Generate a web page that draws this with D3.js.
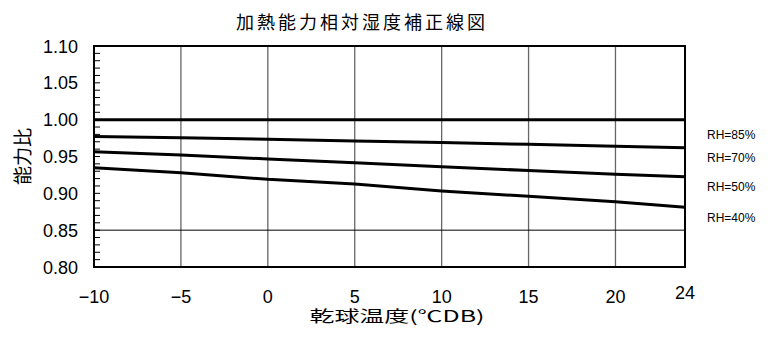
<!DOCTYPE html>
<html>
<head>
<meta charset="utf-8">
<script src="https://cdn.jsdelivr.net/npm/d3@7"></script>
<style>
body { margin: 0; background: #fff; }
text { fill: #000; }
</style>
</head>
<body>
<script>
// data
var temps = [-10, -5, 0, 5, 10, 15, 20, 24];
var rh85 = [1.000, 1.000, 1.000, 1.000, 1.000, 1.000, 1.000, 1.000];
var rh70 = [0.977, 0.9755, 0.9735, 0.971, 0.969, 0.9665, 0.964, 0.962];
var rh50 = [0.9565, 0.952, 0.9466, 0.9416, 0.936, 0.931, 0.9258, 0.9226];
var rh40 = [0.9348, 0.928, 0.919, 0.9127, 0.9032, 0.896, 0.8887, 0.881];
var seriesNames = ["RH=85%", "RH=70%", "RH=50%", "RH=40%"];
var xTicks = [-10, -5, 0, 5, 10, 15, 20, 24];
var yTicks = [0.80, 0.85, 0.90, 0.95, 1.00, 1.05, 1.10];
var labelY = [0.979, 0.948, 0.909, 0.867]; // where the RH labels sit

var width = 777, height = 341;
var margin = {top: 46, right: 92, bottom: 74, left: 94};
var w = width - margin.left - margin.right,
    h = height - margin.top - margin.bottom;

var jp = "'Noto Sans CJK JP', sans-serif";
var latin = "'Liberation Sans', Arial, sans-serif";

var x = d3.scaleLinear().domain([-10, 24]).range([0, w]);
var y = d3.scaleLinear().domain([0.80, 1.10]).range([h, 0]);

var svg = d3.select("body").append("svg")
    .attr("width", width)
    .attr("height", height);

svg.append("text")
    .attr("x", 362)
    .attr("y", 29)
    .attr("text-anchor", "middle")
    .style("font-family", jp)
    .style("font-size", "18px")
    .style("letter-spacing", "3px")
    .text("加熱能力相対湿度補正線図");

var g = svg.append("g")
    .attr("transform", "translate(" + margin.left + "," + margin.top + ")");

// vertical grid
g.selectAll(".vgrid")
    .data(xTicks.slice(1, -1))
  .enter().append("line")
    .attr("x1", function(d) { return x(d); })
    .attr("x2", function(d) { return x(d); })
    .attr("y1", 0).attr("y2", h)
    .attr("stroke", "#666")
    .attr("stroke-width", 1.3);

// horizontal grid
g.selectAll(".hgrid")
    .data([0.85, 1.00])
  .enter().append("line")
    .attr("x1", 0).attr("x2", w)
    .attr("y1", function(d) { return y(d); })
    .attr("y2", function(d) { return y(d); })
    .attr("stroke", "#000")
    .attr("stroke-width", 1);

// minor ticks on the left, every 0.01
g.selectAll(".minor")
    .data(d3.range(81, 110).map(function(d) { return d / 100; }))
  .enter().append("line")
    .attr("x1", 0).attr("x2", 6)
    .attr("y1", function(d) { return y(d); })
    .attr("y2", function(d) { return y(d); })
    .attr("stroke", "#000")
    .attr("stroke-width", 1);

// curves
var allSeries = [rh85, rh70, rh50, rh40];
var line = d3.line()
    .x(function(d, i) { return x(temps[i]); })
    .y(function(d) { return y(d); });

g.selectAll(".curve")
    .data(allSeries)
  .enter().append("path")
    .attr("d", line)
    .attr("fill", "none")
    .attr("stroke", "#000")
    .attr("stroke-width", 3);

// frame
g.append("rect")
    .attr("width", w).attr("height", h)
    .attr("fill", "none")
    .attr("stroke", "#000")
    .attr("stroke-width", 2);

// y tick labels
g.selectAll(".ylab")
    .data(yTicks)
  .enter().append("text")
    .attr("x", -16)
    .attr("y", function(d) { return y(d) + 6.5; })
    .attr("text-anchor", "end")
    .style("font-family", latin)
    .style("font-size", "18px")
    .text(function(d) { return d3.format(".2f")(d); });

// x tick labels
g.selectAll(".xlab")
    .data(xTicks)
  .enter().append("text")
    .attr("x", function(d) { return x(d); })
    .attr("y", function(d) { return d === 24 ? h + 32 : h + 36; })
    .attr("text-anchor", "middle")
    .style("font-family", latin)
    .style("font-size", "18px")
    .text(function(d) { return d < 0 ? "\u2212" + Math.abs(d) : d; });

// RH labels
g.selectAll(".rh")
    .data(seriesNames)
  .enter().append("text")
    .attr("x", w + 22)
    .attr("y", function(d, i) { return y(labelY[i]) + 4; })
    .style("font-family", latin)
    .style("font-size", "12px")
    .text(function(d) { return d; });

// axis titles (x title is drawn wide in the original)
var xTitle = svg.append("text")
    .attr("text-anchor", "middle")
    .style("font-family", jp)
    .style("font-size", "16px")
    .text("乾球温度(℃DB)");
var len = xTitle.node().getComputedTextLength();
xTitle.attr("transform", "translate(397,322) scale(" + (175 / len) + ",1)");

svg.append("text")
    .attr("transform", "translate(30," + (margin.top + h / 2) + ") rotate(-90)")
    .attr("text-anchor", "middle")
    .style("font-family", jp)
    .style("font-size", "19px")
    .text("能力比");
</script>
</body>
</html>
